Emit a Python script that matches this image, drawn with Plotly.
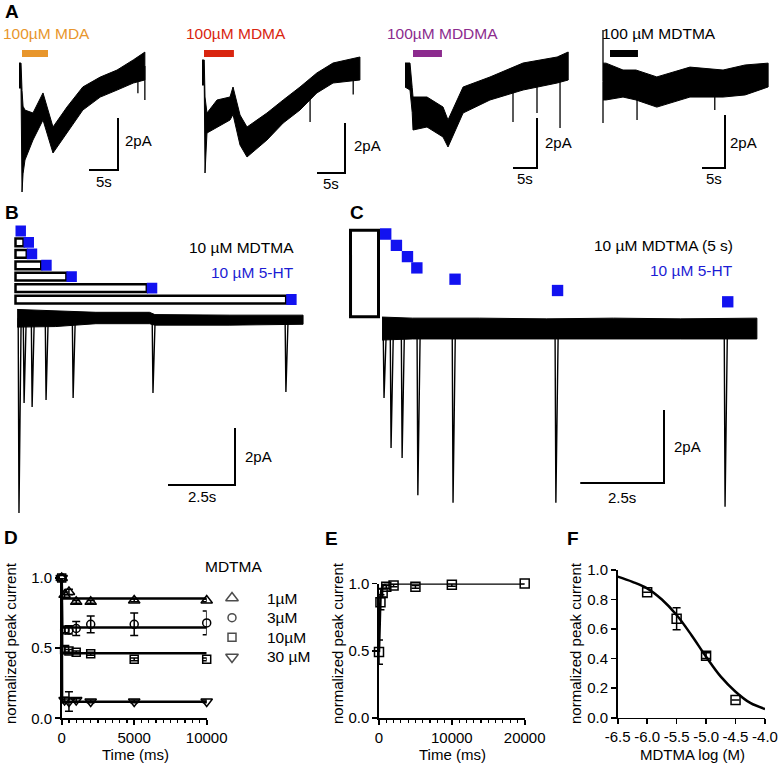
import numpy as np
import plotly.graph_objects as go

W, H = 780, 766
FONT = "Liberation Sans, Arial, sans-serif"
BLUE = "#1212F0"
BLUE_TXT = "#1C1CD4"

# ============================ DATA ============================
# Panel A: current traces, time (s) vs current (pA); noisy trace as upper / lower envelope
a_labels = ["100µM MDA", "100µM MDMA", "100µM MDDMA", "100 µM MDTMA"]
a_colors = ["#E8962C", "#D9250F", "#8C2B8E", "#000000"]
a_drug_on = [0.52, 0.36, 1.67, 1.52]
a_drug_off = [5.0, 5.7, 7.7, 7.6]

a1_t = [0, 0.35, 0.52, 0.7, 1.03, 2.41, 4.14, 5.86, 8.28, 11.0, 14.0, 16.9, 19.7, 21.7]
a1_hi = [0.46, 0.46, -0.6, -1.2, -1.35, -1.46, -0.69, -2.0, -1.23, -0.46, -0.08, 0.19, 0.58, 0.88]
a1_lo = [-0.5, -0.5, -4.5, -3.8, -3.27, -2.5, -1.73, -3.0, -2.23, -1.35, -0.85, -0.58, -0.31, -0.19]
a1_spk_t = [20.5, 21.7]
a1_spk_i = [-0.7, -0.96]

a2_t = [0, 0.4, 0.54, 0.89, 2.68, 5.0, 5.54, 6.79, 8.04, 11.6, 14.5, 17.5, 20.5, 23.4, 28.2]
a2_hi = [0.48, 0.48, -1.0, -1.64, -1.12, -1.0, -0.6, -1.72, -2.2, -1.64, -1.12, -0.6, -0.04, 0.36, 0.6]
a2_lo = [-0.52, -0.52, -4.04, -2.44, -2.2, -1.92, -1.7, -2.92, -3.4, -2.72, -2.04, -1.52, -0.84, -0.44, -0.32]
a2_spk_t = [19.3, 27.0]
a2_spk_i = [-2.0, -0.9]

a3_t = [0, 1.04, 1.5, 1.67, 4.58, 7.92, 8.96, 10.4, 12.1, 17.7, 24.6, 31.7, 34.0]
a3_hi = [0.48, 0.48, -0.5, -0.88, -0.88, -1.28, -1.8, -1.2, -0.48, -0.08, 0.48, 0.72, 0.92]
a3_lo = [-0.48, -0.6, -1.5, -2.2, -2.08, -2.48, -2.88, -2.28, -1.52, -1.0, -0.6, -0.32, -0.2]
a3_spk_t = [22.5, 27.5, 32.3]
a3_spk_i = [-1.88, -1.52, -2.12]

a4_t = [0, 0.65, 4.35, 7.17, 11.7, 18.9, 26.1, 30.9, 35.9]
a4_hi = [0.75, 0.75, 0.49, 0.49, 0.23, 0.6, 0.49, 0.68, 0.75]
a4_lo = [-0.64, -0.64, -0.53, -0.64, -0.91, -0.53, -0.53, -0.45, -0.15]
a4_spk_t = [0, 0, 7.4, 24.3]
a4_spk_i = [2.0, -1.51, -1.4, -1.02]

scale_a_s, scale_a_pA = 5, 2
scale_bc_s, scale_bc_pA = 2.5, 2

# Panel B: MDTMA pre-application duration (s) before each 5-HT pulse, and the recorded trace
b_delay = [0, 0.3, 0.42, 0.96, 1.9, 4.9, 10.1]
b_pulse = 0.39
b_t = [0.06, 1.5, 3.0, 5.0, 5.2, 8.0, 10.73]
b_hi = [0.3, 0.25, 0.2, 0.2, 0.12, 0.1, 0.1]
b_lo = [-0.32, -0.3, -0.2, -0.2, -0.25, -0.25, -0.22]
b_spk_t = [0.13, 0.32, 0.62, 1.14, 2.15, 5.13, 10.09]
b_spk_i = [-6.84, -2.98, -3.12, -2.88, -2.81, -2.63, -2.6]

# Panel C: 5-HT pulses after washout of MDTMA (s) and the recorded trace
c_delay = [0.03, 0.35, 0.68, 0.96, 2.1, 5.16, 10.24]
c_pulse = 0.34
c_t = [0.09, 1.0, 3.0, 5.0, 7.0, 9.0, 11.28]
c_hi = [0.3, 0.27, 0.27, 0.25, 0.27, 0.25, 0.27]
c_lo = [-0.33, -0.3, -0.3, -0.3, -0.3, -0.3, -0.3]
c_spk_t = [0.15, 0.36, 0.69, 1.16, 2.21, 5.28, 10.33]
c_spk_i = [-1.92, -3.29, -3.56, -4.58, -4.79, -4.79, -4.9]

# Panel D: normalized peak current vs time (ms) for MDTMA concentrations
d_t = [0, 200, 500, 1000, 2000, 5000, 10000]
d_names = ["1µM", "3µM", "10µM", "30 µM"]
d_1uM = [1.0, 0.88, 0.90, 0.83, 0.83, 0.84, 0.84]
d_1uM_err = [0, 0.02, 0.02, 0.01, 0.01, 0.01, 0.01]
d_3uM = [1.0, 0.63, 0.63, 0.64, 0.67, 0.67, 0.68]
d_3uM_err = [0, 0.02, 0.03, 0.05, 0.06, 0.08, 0.085]
d_10uM = [1.0, 0.49, 0.48, 0.47, 0.46, 0.42, 0.42]
d_10uM_err = [0, 0.02, 0.01, 0.01, 0.01, 0.01, 0.01]
d_30uM = [1.0, 0.13, 0.12, 0.13, 0.12, 0.12, 0.12]
d_30uM_err = [0, 0.02, 0.07, 0.01, 0.01, 0.01, 0.01]
d_fit_t = [0, 30, 10000]
d_plateau = [0.854, 0.648, 0.463, 0.118]

# Panel E: recovery
e_t = [0, 200, 500, 1000, 2000, 5000, 10000, 20000]
e_y = [0.49, 0.86, 0.93, 0.975, 0.985, 0.975, 0.99, 1.0]
e_err = [0.09, 0.056, 0.03, 0.01, 0.01, 0.01, 0.01, 0.0]
e_fit_t = [0, 50, 100, 200, 320, 550, 1000, 20000]
e_fit_y = [0.49, 0.66, 0.80, 0.90, 0.95, 0.99, 1.0, 1.0]

# Panel F: concentration-response
f_x = [-6.0, -5.5, -5.0, -4.5]
f_y = [0.85, 0.67, 0.42, 0.12]
f_err = [0.0, 0.075, 0.02, 0.0]
f_fit_x = [-6.5, -6.25, -6.0, -5.75, -5.5, -5.25, -5.0, -4.75, -4.5, -4.25, -4.0]
f_fit_y = [0.955, 0.92, 0.876, 0.80, 0.695, 0.56, 0.413, 0.278, 0.176, 0.10, 0.059]
f_ticks = [-6.5, -6.0, -5.5, -5.0, -4.5, -4.0]
f_ticktext = ["-6.5", "-6.0", "-5.5", "-5.0", "-4.5", "-4.0"]

# ============================ FIGURE ============================
fig = go.Figure()
layout = dict(template="none", width=W, height=H, margin=dict(l=0, r=0, t=0, b=0, pad=0, autoexpand=False),
              paper_bgcolor="white", plot_bgcolor="rgba(0,0,0,0)", showlegend=False, barmode="overlay",
              font=dict(family=FONT, size=15, color="black"))
annotations = []
n_ax = [0]


def add_axes(box, xr, yr, xstyle=None, ystyle=None):
    n_ax[0] += 1
    k = n_ax[0]
    s = "" if k == 1 else str(k)
    x0, x1, y0, y1 = box
    xa = dict(domain=[x0 / W, x1 / W], range=xr, anchor="y" + s, visible=False, fixedrange=True,
              automargin=False)
    ya = dict(domain=[1 - y1 / H, 1 - y0 / H], range=yr, anchor="x" + s, visible=False, fixedrange=True,
              automargin=False)
    if xstyle:
        xa.update(xstyle)
    if ystyle:
        ya.update(ystyle)
    layout["xaxis" + s] = xa
    layout["yaxis" + s] = ya
    return "x" + s, "y" + s


def trace_axes(p):
    x0, x1, y0, y1 = p["box"]
    ox, oy = p["origin"]
    return add_axes(p["box"], [(x0 - ox) / p["sx"], (x1 - ox) / p["sx"]],
                    [(oy - y1) / p["sy"], (oy - y0) / p["sy"]])


def px2data(p, px, py):
    ox, oy = p["origin"]
    return (px - ox) / p["sx"], (oy - py) / p["sy"]


def ann_px(text, px, py, size=15.5, color="black", xanchor="center", bold=False, angle=0):
    annotations.append(dict(text=("<b>%s</b>" % text) if bold else text, x=px / W, y=1 - py / H,
                            xref="paper", yref="paper", showarrow=False, xanchor=xanchor,
                            yanchor="middle", textangle=angle,
                            font=dict(family=FONT, size=size, color=color)))


def add_band(ax, t, hi, lo):
    fig.add_trace(go.Scatter(x=t + t[::-1], y=hi + lo[::-1], mode="lines", fill="toself",
                             fillcolor="black", line=dict(color="black", width=1),
                             xaxis=ax[0], yaxis=ax[1], hoverinfo="skip"))


def add_spikes(ax, t_env, hi, lo, st, si, dl=0.0, dr=0.0, width=1.3):
    mids = [(h + l) / 2 for h, l in zip(hi, lo)]
    xs, ys = [], []
    for t, tip in zip(st, si):
        m = float(np.interp(t, t_env, mids))
        if dl == 0 and dr == 0:
            xs += [t, t, None]
            ys += [m, tip, None]
        else:
            xs += [t - dl, t, t + dr, None]
            ys += [m, tip, m, None]
    fig.add_trace(go.Scatter(x=xs, y=ys, mode="lines", line=dict(color="black", width=width),
                             xaxis=ax[0], yaxis=ax[1], hoverinfo="skip"))


def add_scalebar(ax, p, len_s, len_pa, lab_s, lab_pa):
    cx, cy = px2data(p, *p["corner"])
    fig.add_trace(go.Scatter(x=[cx - len_s, cx, cx], y=[cy, cy, cy + len_pa], mode="lines",
                             line=dict(color="black", width=2), xaxis=ax[0], yaxis=ax[1],
                             hoverinfo="skip"))
    annotations.append(dict(xref=ax[0], yref=ax[1], x=cx, y=cy, text=lab_pa, showarrow=False,
                            xanchor="left", yanchor="middle", xshift=p["pa_shift"][0],
                            yshift=p["pa_shift"][1], font=dict(family=FONT, size=15, color="black")))
    annotations.append(dict(xref=ax[0], yref=ax[1], x=cx - len_s / 2, y=cy, text=lab_s,
                            showarrow=False, xanchor="center", yanchor="middle",
                            yshift=p["s_shift"], font=dict(family=FONT, size=15, color="black")))


# ---------------- Panel A ----------------
panel_a = [
    dict(box=(0, 178, 40, 205), origin=(19, 75), sx=5.8, sy=26, corner=(118, 170), pa_shift=(5, 30), s_shift=-11, lab_x=1),
    dict(box=(182, 385, 40, 205), origin=(202, 72), sx=5.6, sy=25, corner=(345, 173), pa_shift=(7, 28), s_shift=-10, lab_x=184),
    dict(box=(386, 590, 40, 205), origin=(405, 75), sx=4.8, sy=25, corner=(537, 168), pa_shift=(6, 26), s_shift=-10, lab_x=385),
    dict(box=(592, 780, 25, 205), origin=(603, 83), sx=4.6, sy=26.5, corner=(725, 168), pa_shift=(3, 26), s_shift=-10, lab_x=600),
]
a_env = [(a1_t, a1_hi, a1_lo, a1_spk_t, a1_spk_i), (a2_t, a2_hi, a2_lo, a2_spk_t, a2_spk_i),
         (a3_t, a3_hi, a3_lo, a3_spk_t, a3_spk_i), (a4_t, a4_hi, a4_lo, a4_spk_t, a4_spk_i)]

for i, p in enumerate(panel_a):
    ax = trace_axes(p)
    t, hi, lo, st, si = a_env[i]
    add_band(ax, t, hi, lo)
    add_spikes(ax, t, hi, lo, st, si, width=1.3)
    _, bar_level = px2data(p, 0, 53.5)
    fig.add_trace(go.Scatter(x=[a_drug_on[i], a_drug_off[i]], y=[bar_level, bar_level], mode="lines",
                             line=dict(color=a_colors[i], width=7), xaxis=ax[0], yaxis=ax[1],
                             hoverinfo="skip"))
    add_scalebar(ax, p, scale_a_s, scale_a_pA, "5s", "2pA")
    ann_px(a_labels[i], p["lab_x"], 33, size=15.5, color=a_colors[i], xanchor="left")

# ---------------- Panel B ----------------
pb = dict(box=(0, 320, 300, 520), origin=(15.5, 318), sx=26.8, sy=28.5, corner=(235, 485), pa_shift=(8, 28), s_shift=-12)
bax = trace_axes(pb)
add_band(bax, b_t, b_hi, b_lo)
add_spikes(bax, b_t, b_hi, b_lo, b_spk_t, b_spk_i, dl=0.03, dr=0.08, width=1.4)
add_scalebar(bax, pb, scale_bc_s, scale_bc_pA, "2.5s", "2pA")

b_row0, b_rowstep = 231, 11.42
bpx = add_axes((0, 320, b_row0 - 0.6 * b_rowstep, b_row0 + 6.6 * b_rowstep),
               [(0 - 15.5) / 26.8, (320 - 15.5) / 26.8], [6.6, -0.6])
rows = list(range(len(b_delay)))
fig.add_trace(go.Bar(orientation="h", y=rows[1:], x=b_delay[1:], base=[0] * (len(b_delay) - 1),
                     width=0.68, marker=dict(color="white", line=dict(color="black", width=2.5)),
                     xaxis=bpx[0], yaxis=bpx[1], hoverinfo="skip"))
fig.add_trace(go.Bar(orientation="h", y=rows, x=[b_pulse] * len(b_delay), base=b_delay, width=0.95,
                     marker=dict(color=BLUE, line=dict(width=0)), xaxis=bpx[0], yaxis=bpx[1],
                     hoverinfo="skip"))
ann_px("10 µM MDTMA", 296, 247, xanchor="right")
ann_px("10 µM 5-HT", 296, 272, xanchor="right", color=BLUE_TXT)

# ---------------- Panel C ----------------
pc = dict(box=(340, 780, 305, 515), origin=(379, 328), sx=33.5, sy=36.5, corner=(664, 483), pa_shift=(8, 37), s_shift=-14)
cax = trace_axes(pc)
add_band(cax, c_t, c_hi, c_lo)
add_spikes(cax, c_t, c_hi, c_lo, c_spk_t, c_spk_i, dl=0.025, dr=0.07, width=1.4)
add_scalebar(cax, pc, scale_bc_s, scale_bc_pA, "2.5s", "2pA")

c_row0, c_rowstep = 234, 11.3
cpx = add_axes((340, 780, c_row0 - 0.6 * c_rowstep, c_row0 + 7.6 * c_rowstep),
               [(340 - 379) / 33.5, (780 - 379) / 33.5], [7.6, -0.6])
fig.add_trace(go.Bar(orientation="h", y=[3.5], x=[0.835], base=[-0.85], width=[7.66],
                     marker=dict(color="white", line=dict(color="black", width=3)),
                     xaxis=cpx[0], yaxis=cpx[1], hoverinfo="skip"))
fig.add_trace(go.Bar(orientation="h", y=list(range(len(c_delay))), x=[c_pulse] * len(c_delay),
                     base=c_delay, width=1.0, marker=dict(color=BLUE, line=dict(width=0)),
                     xaxis=cpx[0], yaxis=cpx[1], hoverinfo="skip"))
ann_px("10 µM MDTMA (5 s)", 735, 246, xanchor="right")
ann_px("10 µM 5-HT", 735, 271, xanchor="right", color=BLUE_TXT)

# ---------------- Graph axes style ----------------
TF = dict(family=FONT, size=15, color="black")


def graph_style(**kw):
    d = dict(visible=True, showline=True, linecolor="black", linewidth=1.6, ticks="outside",
             ticklen=5, tickwidth=1.6, tickcolor="black", tickfont=TF, showgrid=False,
             zeroline=False, automargin=False)
    d.update(kw)
    return d


def minor(dt):
    return dict(ticks="outside", ticklen=3, tickwidth=1.2, tickcolor="black", dtick=dt, tick0=0,
                showgrid=False)


# ---------------- Panel D ----------------
dax = add_axes((61.7, 206.7, 578, 718.3), [0, 10000], [0, 1],
               xstyle=graph_style(tick0=0, dtick=5000, tickformat="d", minor=minor(500)),
               ystyle=graph_style(tick0=0, dtick=0.5, tickformat=".1f"))
d_series = [(d_1uM, d_1uM_err, "triangle-up-open", 10), (d_3uM, d_3uM_err, "circle-open", 8),
            (d_10uM, d_10uM_err, "square-open", 8), (d_30uM, d_30uM_err, "triangle-down-open", 10)]
for k, (yv, ev, sym, sz) in enumerate(d_series):
    fig.add_trace(go.Scatter(x=d_fit_t, y=[1.0, d_plateau[k], d_plateau[k]], mode="lines",
                             line=dict(color="black", width=2.5), xaxis=dax[0], yaxis=dax[1],
                             hoverinfo="skip"))
for k, (yv, ev, sym, sz) in enumerate(d_series):
    fig.add_trace(go.Scatter(x=d_t, y=yv, mode="markers", name=d_names[k], cliponaxis=False,
                             marker=dict(symbol=sym, size=sz, color="black", line=dict(width=1.5, color="black")),
                             error_y=dict(type="data", array=ev, color="black", thickness=1.5, width=4),
                             xaxis=dax[0], yaxis=dax[1]))

# legend for D
lax = add_axes((200, 300, 588.2, 666.8), [-32, 68], [3.5, -0.5])
fig.add_trace(go.Scatter(x=[0] * 4, y=list(range(4)), mode="markers", cliponaxis=False,
                         marker=dict(symbol=[s[2] for s in d_series], size=[11, 8, 8, 11], color="black",
                                     line=dict(width=1.5, color="black")),
                         xaxis=lax[0], yaxis=lax[1], hoverinfo="skip"))
for k, nm in enumerate(d_names):
    annotations.append(dict(xref=lax[0], yref=lax[1], x=0, y=k, text=nm, showarrow=False,
                            xanchor="left", yanchor="middle", xshift=33,
                            font=dict(family=FONT, size=15.5, color="black")))
ann_px("MDTMA", 233, 566, size=15.5)

# ---------------- Panel E ----------------
eax = add_axes((379, 524.7, 583.5, 718), [0, 20000], [0, 1],
               xstyle=graph_style(tick0=0, dtick=10000, tickformat="d", minor=minor(1000)),
               ystyle=graph_style(tick0=0, dtick=0.5, tickformat=".1f"))
fig.add_trace(go.Scatter(x=e_fit_t, y=e_fit_y, mode="lines", line=dict(color="black", width=2.5),
                         xaxis=eax[0], yaxis=eax[1], hoverinfo="skip"))
fig.add_trace(go.Scatter(x=e_t, y=e_y, mode="markers", cliponaxis=False,
                         marker=dict(symbol="square-open", size=9, color="black", line=dict(width=1.5, color="black")),
                         error_y=dict(type="data", array=e_err, color="black", thickness=1.5, width=4),
                         xaxis=eax[0], yaxis=eax[1]))

# ---------------- Panel F ----------------
fax = add_axes((617.7, 765, 570, 717.7), [-6.5, -4.0], [0, 1],
               xstyle=graph_style(tickmode="array", tickvals=f_ticks, ticktext=f_ticktext),
               ystyle=graph_style(tick0=0, dtick=0.2, tickformat=".1f"))
fig.add_trace(go.Scatter(x=f_fit_x, y=f_fit_y, mode="lines", line=dict(color="black", width=2.5, shape="spline"),
                         xaxis=fax[0], yaxis=fax[1], hoverinfo="skip"))
fig.add_trace(go.Scatter(x=f_x, y=f_y, mode="markers", cliponaxis=False,
                         marker=dict(symbol="square-open", size=9, color="black", line=dict(width=1.5, color="black")),
                         error_y=dict(type="data", array=f_err, color="black", thickness=1.5, width=4),
                         xaxis=fax[0], yaxis=fax[1]))

# ---------------- Titles / labels ----------------
for lab, x, y in [("A", 3, 12), ("B", 3, 212), ("C", 348, 212), ("D", 2, 537), ("E", 323, 538), ("F", 565, 538)]:
    ann_px(lab, x, y, size=19, bold=True, xanchor="left")
for x in (10, 337, 575):
    ann_px("normalized peak current", x, 643, size=15, angle=-90)
ann_px("Time (ms)", 135, 754, size=15)
ann_px("Time (ms)", 452, 754, size=15)
ann_px("MDTMA log (M)", 692, 754, size=15)

layout["annotations"] = annotations
fig.update_layout(**layout)
fig.write_html("out.html", config={"displayModeBar": False, "staticPlot": True},
               post_script="document.body.style.margin='0';document.body.style.overflow='hidden';")
